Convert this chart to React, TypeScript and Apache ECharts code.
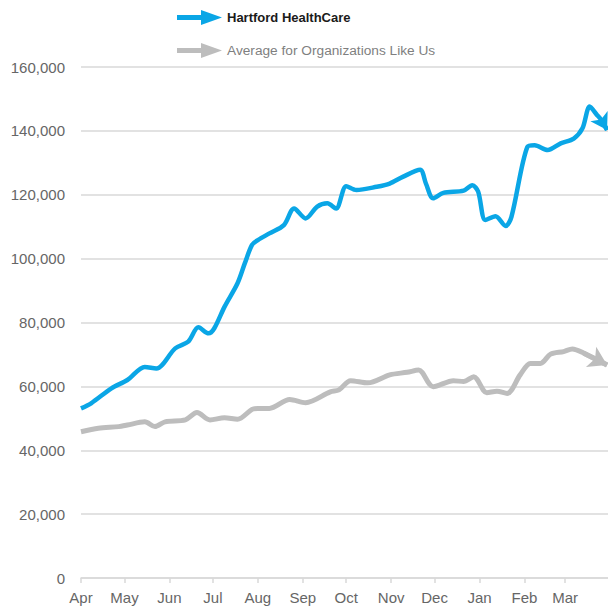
import React, { useEffect, useRef } from "react";
import * as echarts from "echarts";

const monthLabels = ["Apr", "May", "Jun", "Jul", "Aug", "Sep", "Oct", "Nov", "Dec", "Jan", "Feb", "Mar"];
const monthStartDays = [0, 30, 61, 91, 122, 153, 183, 214, 244, 275, 306, 334];

const hhcDays = [0, 7, 21, 32, 44, 52, 65, 74, 81, 88, 92, 99, 108, 113, 118, 122, 130, 140, 147, 155, 163, 170, 176, 183, 190, 204, 213, 222, 234, 238, 243, 250, 264, 270, 274, 279, 286, 293, 297, 308, 313, 322, 331, 340, 346, 351, 356, 359, 363];
const hhcValues = [53100, 54700, 59400, 62000, 66100, 65600, 71900, 74000, 78500, 76600, 78200, 84900, 92300, 98500, 104300, 105800, 107900, 110500, 115700, 112600, 116300, 117300, 115700, 122700, 121500, 122500, 123500, 125600, 127800, 123500, 118900, 120600, 121300, 123000, 121000, 112100, 113300, 110200, 113100, 135000, 135500, 134000, 136100, 137600, 140800, 147600, 145000, 143400, 140300];

const avgDays = [0, 12, 26, 32, 44, 51, 58, 72, 80, 89, 99, 108, 118, 122, 130, 144, 155, 172, 178, 186, 198, 213, 225, 233, 243, 257, 264, 271, 280, 287, 294, 303, 310, 317, 324, 333, 339, 347, 363];
const avgValues = [45800, 46900, 47400, 47900, 48900, 47400, 48900, 49500, 51800, 49500, 50200, 49700, 52800, 53100, 53100, 55900, 54900, 58300, 58900, 61800, 61100, 63600, 64400, 65100, 59900, 61800, 61500, 63000, 58000, 58500, 57800, 63600, 67200, 67200, 70100, 70900, 71700, 70400, 66700];

const seriesNames = ["Hartford HealthCare", "Average for Organizations Like Us"];
const yTicks = { min: 0, max: 160000, interval: 20000 };

const BLUE = "#0aa6e6";
const GRAY = "#bdbdbd";
const ARROW_ICON = "path://M0,5 L24,5 L24,0 L45,7.5 L24,15 L24,10 L0,10 Z";

function pairs(xs: number[], ys: number[]) {
  return xs.map((x, i) => [x, ys[i]]);
}

function arrowMark(xs: number[], ys: number[], color: string, width: number, size: number[]) {
  const n = xs.length;
  return {
    silent: true,
    symbol: ["none", "arrow"],
    symbolSize: size,
    label: { show: false },
    emphasis: { disabled: true },
    lineStyle: { color, width, type: "solid" },
    data: [[{ coord: [xs[n - 2], ys[n - 2]] }, { coord: [xs[n - 1], ys[n - 1]] }]],
  };
}

export default function App() {
  const ref = useRef<HTMLDivElement>(null);
  useEffect(() => {
    if (!ref.current) return;
    const chart = echarts.init(ref.current, null, { renderer: "svg" });
    chart.setOption({
      animation: false,
      backgroundColor: "#ffffff",
      textStyle: { fontFamily: "Liberation Sans, Arial, sans-serif" },
      legend: {
        orient: "vertical",
        left: 177,
        top: 10,
        padding: 0,
        itemWidth: 45,
        itemHeight: 15,
        itemGap: 18,
        icon: ARROW_ICON,
        selectedMode: false,
        data: [
          { name: seriesNames[0], textStyle: { color: "#1a1a1a", fontWeight: "bold", fontSize: 13 } },
          { name: seriesNames[1], textStyle: { color: "#7f7f7f", fontSize: 13.7 } },
        ],
      },
      grid: { left: 81, right: -2, top: 67, bottom: 29, containLabel: false, outerBoundsMode: "none" },
      xAxis: {
        type: "value",
        min: 0,
        max: 365,
        axisLine: { show: true, lineStyle: { color: "#d9d9d9", width: 1.5 } },
        axisTick: { show: true, length: 5, customValues: monthStartDays, lineStyle: { color: "#d9d9d9", width: 1.5 } },
        axisLabel: {
          customValues: monthStartDays,
          formatter: (v: number) => monthLabels[monthStartDays.indexOf(v)] ?? "",
          color: "#666666",
          fontSize: 15,
          margin: 12,
        },
        splitLine: { show: false },
      },
      yAxis: {
        type: "value",
        min: yTicks.min,
        max: yTicks.max,
        interval: yTicks.interval,
        axisLine: { show: false },
        axisTick: { show: false },
        axisLabel: {
          color: "#666666",
          fontSize: 15,
          margin: 16,
          formatter: (v: number) => v.toLocaleString("en-US"),
        },
        splitLine: { lineStyle: { color: "#d9d9d9", width: 1.5 } },
      },
      series: [
        {
          name: seriesNames[1],
          type: "line",
          data: pairs(avgDays, avgValues),
          smooth: 0.3,
          showSymbol: false,
          color: GRAY,
          lineStyle: { color: GRAY, width: 5 },
          emphasis: { disabled: true },
          markLine: arrowMark(avgDays, avgValues, GRAY, 5, [17, 18]),
          z: 2,
        },
        {
          name: seriesNames[0],
          type: "line",
          data: pairs(hhcDays, hhcValues),
          smooth: 0.3,
          showSymbol: false,
          color: BLUE,
          lineStyle: { color: BLUE, width: 4.5 },
          emphasis: { disabled: true },
          markLine: arrowMark(hhcDays, hhcValues, BLUE, 4.5, [15, 16]),
          z: 3,
        },
      ],
    });
    return () => chart.dispose();
  }, []);
  return <div ref={ref} style={{ position: "fixed", left: 0, top: 0, width: 608, height: 607 }} />;
}
